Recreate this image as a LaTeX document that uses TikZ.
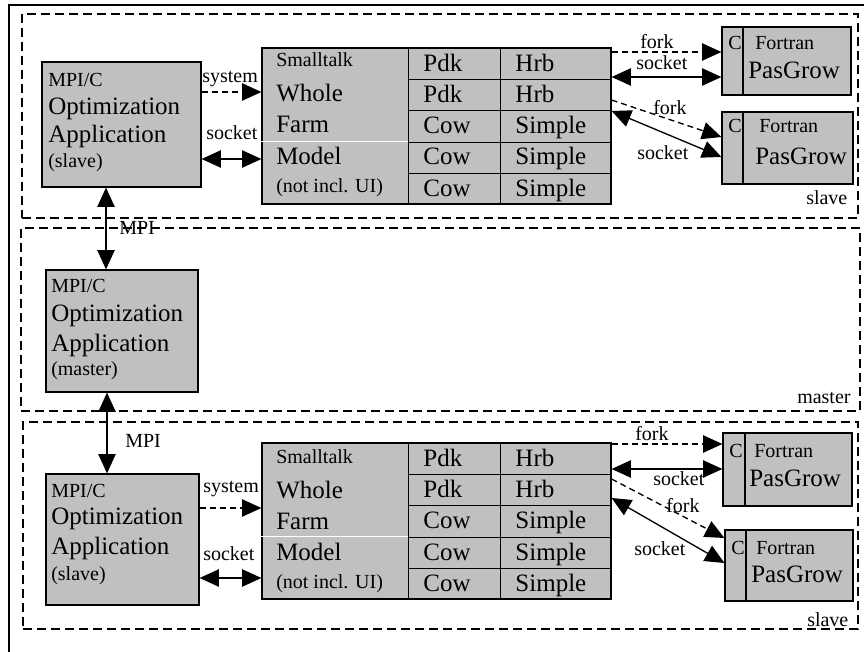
\documentclass[tikz,border=0pt]{standalone}
\usepackage{fontspec}
\setmainfont{Liberation Serif}
\usetikzlibrary{arrows.meta,fit}

\definecolor{boxgray}{RGB}{192,192,192}

\tikzset{
  frame/.style={draw, line width=1.3pt},
  zone/.style={draw, inner sep=0pt, line width=1.1pt, dash pattern=on 6.75pt off 3.75pt},
  graybox/.style={draw, fill=boxgray, inner sep=0pt, line width=0.9pt},
  small/.style={font=\fontsize{15}{18}\selectfont, inner sep=0pt, anchor=base west},
  big/.style={font=\fontsize{18.75}{22}\selectfont, inner sep=0pt, anchor=base west},
  cellL/.style={draw, line width=0.7pt, anchor=north west, inner ysep=0pt, inner xsep=11.25pt,
    text width=46.5pt, align=left, minimum height=23.4pt, text height=11pt, text depth=0pt,
    font=\fontsize{18.75}{22}\selectfont},
  cellR/.style={cellL, text width=60.75pt},
  sep/.style={white, line width=0.7pt},
  link/.style={line width=1pt, -{Triangle[length=14.5pt,width=13pt]}},
  twoway/.style={line width=1pt, {Triangle[length=14.5pt,width=13pt]}-{Triangle[length=14.5pt,width=13pt]}},
  spawn/.style={link, dash pattern=on 4.5pt off 3pt}
}

\begin{document}
\begin{tikzpicture}[x=0.75pt, y=-0.75pt]
\useasboundingbox (0,0) rectangle (864,652);

% Outer frame
\draw[frame] (9,652) -- (9,5) -- (864,5);

% Zones
\node[zone, fit={(22,14) (858,218)}] (zoneA) {};
\node[small] (nameA) at (806,205) {slave};
\node[zone, fit={(21,228) (860,411)}] (zoneM) {};
\node[small] (nameM) at (797,403) {master};
\node[zone, fit={(23,422) (858,629)}] (zoneB) {};
\node[small] (nameB) at (807,626) {slave};

% Optimization applications
\node[graybox, fit={(42,62) (201,187)}] (appA) {};
\node[small] (mpicA) at (48,87) {MPI/C};
\node[big] (optA) at (48,115) {Optimization};
\node[big] (applA) at (48,143) {Application};
\node[small] (roleA) at (48,168) {(slave)};

\node[graybox, fit={(46,270) (198,392)}] (appM) {};
\node[small] (mpicM) at (51,293) {MPI/C};
\node[big] (optM) at (51,322) {Optimization};
\node[big] (applM) at (51,351) {Application};
\node[small] (roleM) at (51,375) {(master)};

\node[graybox, fit={(46,474) (199,605)}] (appB) {};
\node[small] (mpicB) at (51,497) {MPI/C};
\node[big] (optB) at (51,524) {Optimization};
\node[big] (applB) at (51,554) {Application};
\node[small] (roleB) at (51,580) {(slave)};

% MPI links
\coordinate (mpiA) at (106,0);
\draw[twoway] (appA.south -| mpiA) -- (appM.north -| mpiA);
\node[small] (mpiLblA) at (119,235) {MPI};
\coordinate (mpiB) at (107,0);
\draw[twoway] (appM.south -| mpiB) -- (appB.north -| mpiB);
\node[small] (mpiLblB) at (125,447) {MPI};

% Smalltalk model (top)
\node[graybox, fit={(262,48) (611,204)}] (tabA) {};
\node[cellL] (pdkA1) at (408,48) {Pdk};
\node[cellR] (hrbA1) at (500,48) {Hrb};
\node[cellL] (pdkA2) at (408,79.2) {Pdk};
\node[cellR] (hrbA2) at (500,79.2) {Hrb};
\node[cellL] (cowA3) at (408,110.4) {Cow};
\node[cellR] (simA3) at (500,110.4) {Simple};
\node[cellL] (cowA4) at (408,141.6) {Cow};
\node[cellR] (simA4) at (500,141.6) {Simple};
\node[cellL] (cowA5) at (408,172.8) {Cow};
\node[cellR] (simA5) at (500,172.8) {Simple};
\draw[sep] (tabA.west |- cowA4.north west) -- (cowA4.north west);
\node[small] (stA) at (276,67) {Smalltalk};
\node[big] (wholeA) at (276,102) {Whole};
\node[big] (farmA) at (276,133) {Farm};
\node[big] (modelA) at (276,165) {Model};
\node[small] (uiA) at (276,193) {(not incl. UI)};

% Smalltalk model (bottom)
\node[graybox, fit={(262,443) (611,599)}] (tabB) {};
\node[cellL] (pdkB1) at (408,443) {Pdk};
\node[cellR] (hrbB1) at (500,443) {Hrb};
\node[cellL] (pdkB2) at (408,474.2) {Pdk};
\node[cellR] (hrbB2) at (500,474.2) {Hrb};
\node[cellL] (cowB3) at (408,505.4) {Cow};
\node[cellR] (simB3) at (500,505.4) {Simple};
\node[cellL] (cowB4) at (408,536.6) {Cow};
\node[cellR] (simB4) at (500,536.6) {Simple};
\node[cellL] (cowB5) at (408,567.8) {Cow};
\node[cellR] (simB5) at (500,567.8) {Simple};
\draw[sep] (tabB.west |- cowB4.north west) -- (cowB4.north west);
\node[small] (stB) at (276,463) {Smalltalk};
\node[big] (wholeB) at (276,498) {Whole};
\node[big] (farmB) at (276,529) {Farm};
\node[big] (modelB) at (276,560) {Model};
\node[small] (uiB) at (276,588) {(not incl. UI)};

% system / socket links
\coordinate (sysA) at (0,92);
\draw[spawn] (appA.east |- sysA) -- (tabA.west |- sysA);
\node[small] (sysLblA) at (202,83) {system};
\coordinate (sockA) at (0,159);
\draw[twoway] (appA.east |- sockA) -- (tabA.west |- sockA);
\node[small] (sockLblA) at (206,140) {socket};

\coordinate (sysB) at (0,508);
\draw[spawn] (appB.east |- sysB) -- (tabB.west |- sysB);
\node[small] (sysLblB) at (203,492) {system};
\coordinate (sockB) at (0,578);
\draw[twoway] (appB.east |- sockB) -- (tabB.west |- sockB);
\node[small] (sockLblB) at (203,560) {socket};

% Fortran PasGrow (top)
\node[graybox, fit={(722,27) (851,95)}] (fortA1) {};
\node[graybox, fit={(722,27) (743,95)}] (cA1) {};
\node[small] (cLblA1) at (728,50) {C};
\node[small] (ftA1) at (755,50) {Fortran};
\node[big] (pgA1) at (748,79) {PasGrow};

\node[graybox, fit={(722,112) (853,184)}] (fortA2) {};
\node[graybox, fit={(722,112) (743,184)}] (cA2) {};
\node[small] (cLblA2) at (728,133) {C};
\node[small] (ftA2) at (759,133) {Fortran};
\node[big] (pgA2) at (755,165) {PasGrow};

% Fortran PasGrow (bottom)
\node[graybox, fit={(723,433) (852,506)}] (fortB1) {};
\node[graybox, fit={(723,433) (745,506)}] (cB1) {};
\node[small] (cLblB1) at (729,457) {C};
\node[small] (ftB1) at (754,457) {Fortran};
\node[big] (pgB1) at (749,486) {PasGrow};

\node[graybox, fit={(725,530) (853,601)}] (fortB2) {};
\node[graybox, fit={(725,530) (746,601)}] (cB2) {};
\node[small] (cLblB2) at (731,554) {C};
\node[small] (ftB2) at (756,554) {Fortran};
\node[big] (pgB2) at (751,582) {PasGrow};

% fork / socket links (top)
\coordinate (fkA1) at (0,52);
\draw[spawn] (tabA.east |- fkA1) -- (fortA1.west |- fkA1);
\node[small] (fkLblA1) at (640,49) {fork};
\coordinate (skA1) at (0,77);
\draw[twoway] (tabA.east |- skA1) -- (fortA1.west |- skA1);
\node[small] (skLblA1) at (636,70) {socket};
\coordinate (fkA2s) at (0,100);
\coordinate (fkA2e) at (0,137);
\draw[spawn] (tabA.east |- fkA2s) -- (fortA2.west |- fkA2e);
\node[small] (fkLblA2) at (653,115) {fork};
\coordinate (skA2s) at (0,111);
\coordinate (skA2e) at (0,157);
\draw[twoway] (tabA.east |- skA2s) -- (fortA2.west |- skA2e);
\node[small] (skLblA2) at (637,160) {socket};

% fork / socket links (bottom)
\coordinate (fkB1) at (0,444);
\draw[spawn] (tabB.east |- fkB1) -- (fortB1.west |- fkB1);
\node[small] (fkLblB1) at (635,440) {fork};
\coordinate (skB1) at (0,469);
\draw[twoway] (tabB.east |- skB1) -- (fortB1.west |- skB1);
\node[small] (skLblB1) at (653,485) {socket};
\coordinate (fkB2s) at (0,479);
\coordinate (fkB2e) at (0,538);
\draw[spawn] (tabB.east |- fkB2s) -- (fortB2.west |- fkB2e);
\node[small] (fkLblB2) at (666,512) {fork};
\coordinate (skB2s) at (0,498);
\coordinate (skB2e) at (0,563);
\draw[twoway] (tabB.east |- skB2s) -- (fortB2.west |- skB2e);
\node[small] (skLblB2) at (634,555) {socket};

\end{tikzpicture}
\end{document}
